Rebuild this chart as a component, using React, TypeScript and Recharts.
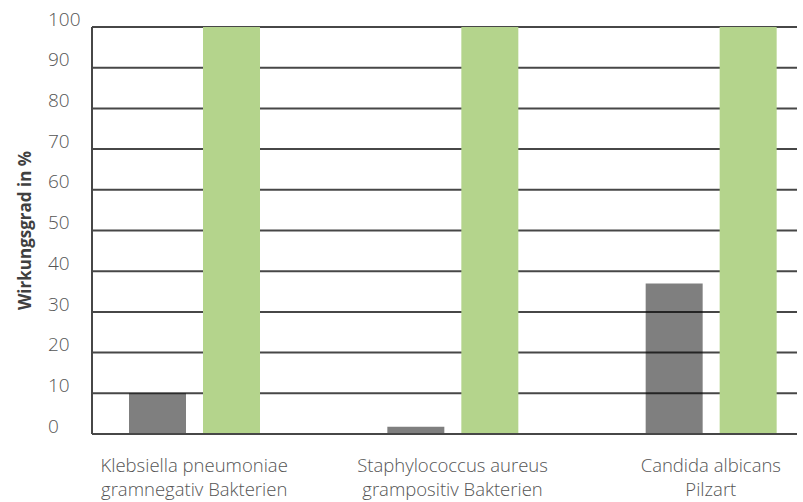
import { BarChart, Bar, XAxis, YAxis, CartesianGrid } from "recharts";

const kategorien = [
  "Klebsiella pneumoniae\ngramnegativ Bakterien",
  "Staphylococcus aureus\ngrampositiv Bakterien",
  "Candida albicans\nPilzart",
];
const grau = [10, 1.8, 37];
const gruen = [100, 100, 100];
const yTicks = [0, 10, 20, 30, 40, 50, 60, 70, 80, 90, 100];

const data = kategorien.map((name, i) => ({
  name,
  grau: grau[i],
  gruen: gruen[i],
}));

const FONT = "'Open Sans', sans-serif";
const TEXT = "#555555";
const LINE = "#474747";

function YTick(props: any) {
  const { y, payload } = props;
  return (
    <text
      x={48}
      y={y - 8}
      dy="0.35em"
      textAnchor="start"
      fill={TEXT}
      stroke="none"
      fontSize={19}
      fontWeight={300}
      fontFamily={FONT}
    >
      {payload.value}
    </text>
  );
}

function XTick(props: any) {
  const { x, payload } = props;
  const lines = String(payload.value).split("\n");
  return (
    <g>
      {lines.map((l, i) => (
        <text
          key={i}
          x={x}
          y={466 + i * 24}
          dy="0.35em"
          textAnchor="middle"
          fill={TEXT}
          stroke="none"
          fontSize={18.5}
          fontWeight={300}
          fontFamily={FONT}
        >
          {l}
        </text>
      ))}
    </g>
  );
}

export default function App() {
  return (
    <div style={{ position: "absolute", left: 0, top: 0, width: 803, height: 502, background: "#fff" }}>
      <BarChart
        width={803}
        height={502}
        data={data}
        margin={{ top: 27, right: 6, bottom: 8, left: 0 }}
        barSize={57}
        barGap={17}
      >
        <CartesianGrid vertical={false} stroke={LINE} strokeWidth={2} />
        <XAxis
          dataKey="name"
          height={60}
          padding={{ left: -27, right: -43 }}
          axisLine={{ stroke: LINE, strokeWidth: 2 }}
          tickLine={false}
          tick={<XTick />}
          interval={0}
        />
        <YAxis
          width={92}
          domain={[0, 100]}
          ticks={yTicks}
          interval={0}
          axisLine={{ stroke: LINE, strokeWidth: 2 }}
          tickLine={false}
          tick={<YTick />}
          label={{
            value: "Wirkungsgrad in %",
            angle: -90,
            position: "insideLeft",
            dx: 20,
            style: {
              textAnchor: "middle",
              fontFamily: FONT,
              fontWeight: 700,
              fontSize: 17,
              fill: "#404040",
            },
          }}
        />
        <Bar dataKey="grau" fill="#000000" fillOpacity={0.5} isAnimationActive={false} />
        <Bar dataKey="gruen" fill="#b4d48c" isAnimationActive={false} />
      </BarChart>
    </div>
  );
}
